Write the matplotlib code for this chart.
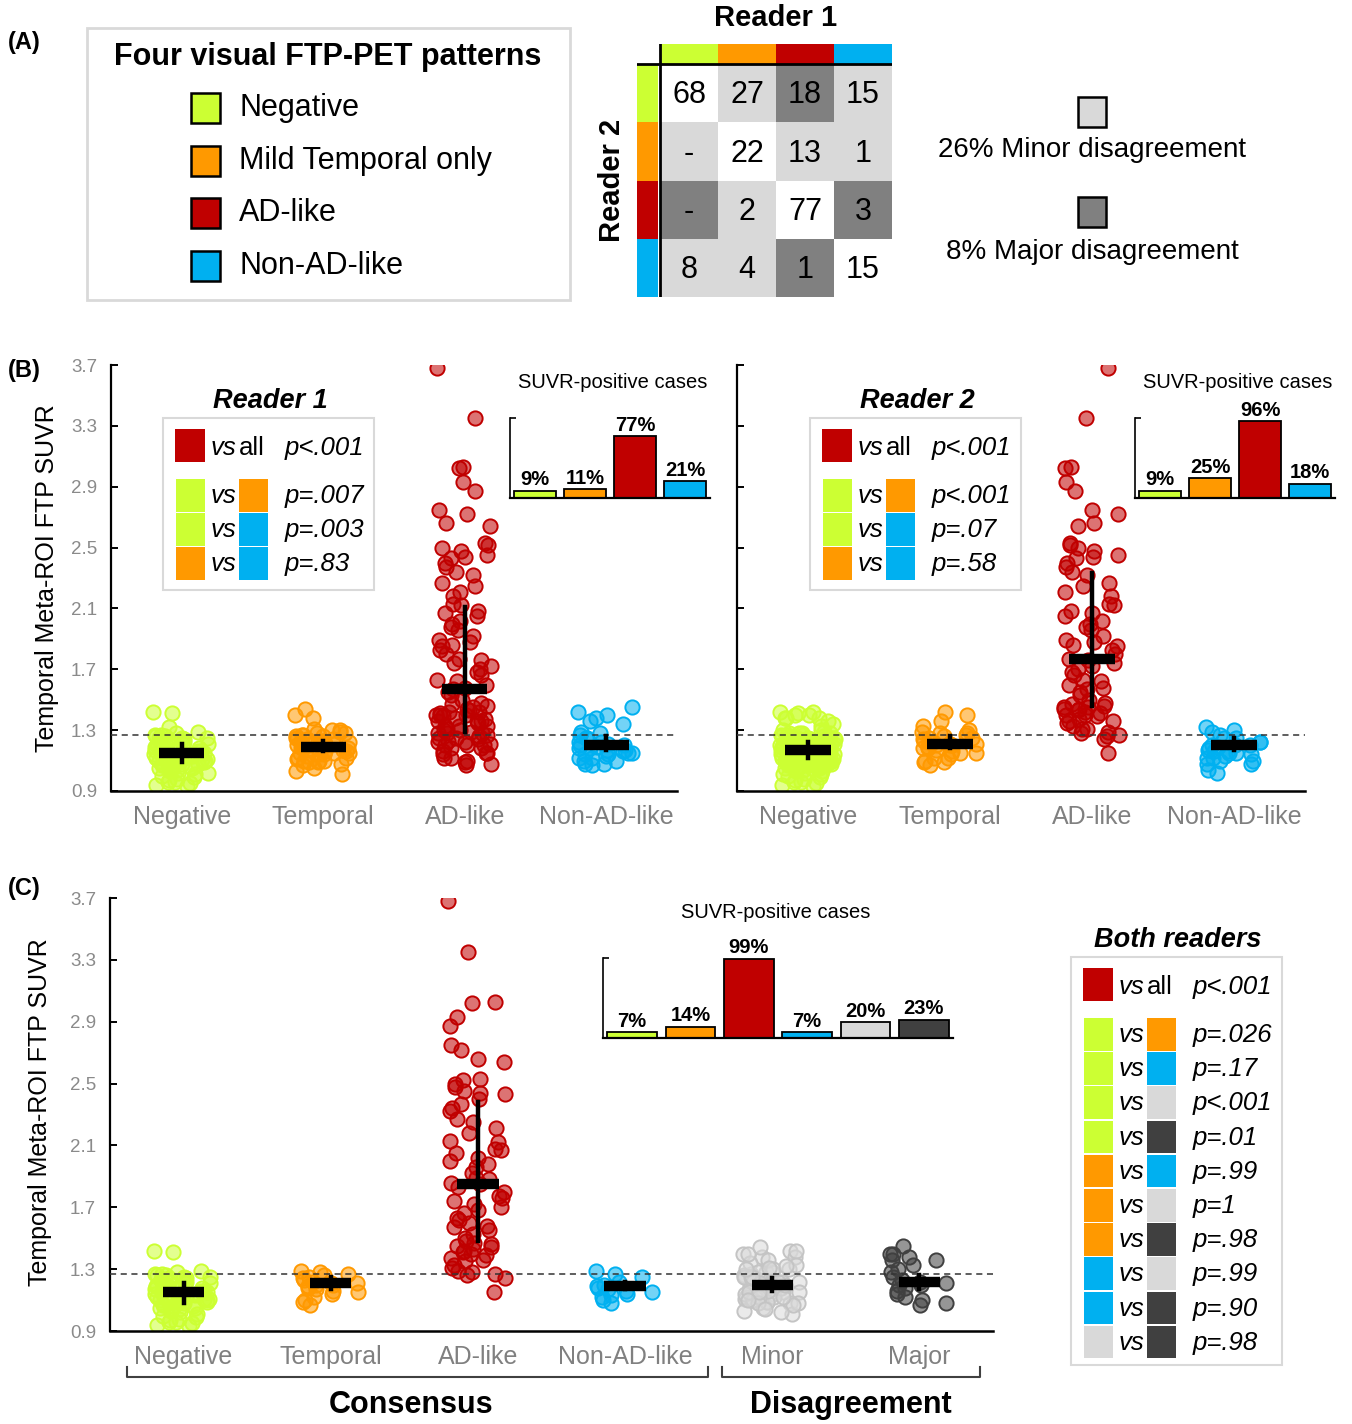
import numpy as np
import matplotlib.pyplot as plt
from matplotlib.colors import to_rgba
from matplotlib.patches import Rectangle

plt.rcParams['font.family'] = ['Liberation Sans', 'DejaVu Sans']

W, H = 1352, 1424

GREEN, ORANGE, RED, BLUE = '#CCFF33', '#FF9900', '#C00000', '#00B0F0'
MINOR, MAJOR = '#D9D9D9', '#404040'
GREY_TXT = '#808080'

pattern_names = ['Negative', 'Mild Temporal only', 'AD-like', 'Non-AD-like']
short_names = ['Negative', 'Temporal', 'AD-like', 'Non-AD-like']
both_names = ['Negative', 'Temporal', 'AD-like', 'Non-AD-like', 'Minor', 'Major']
pattern_colors = [GREEN, ORANGE, RED, BLUE]
both_colors = [GREEN, ORANGE, RED, BLUE, MINOR, MAJOR]

# rows = reader 2, cols = reader 1
agreement = [[68, 27, 18, 15],
             [0, 22, 13, 1],
             [0, 2, 77, 3],
             [8, 4, 1, 15]]
major_pairs = [(0, 2), (2, 3)]
minor_pct, major_pct = 26, 8

# SUVR per cell of the agreement table, named <reader1>_<reader2>
neg_neg = [1.42, 1.41, 1.29, 1.28, 1.27, 1.27, 1.26, 1.26, 1.25, 1.25, 1.24, 1.24, 1.23, 1.23,
           1.22, 1.22, 1.21, 1.21, 1.20, 1.20, 1.19, 1.19, 1.18, 1.18, 1.17, 1.17, 1.16, 1.16,
           1.15, 1.15, 1.15, 1.14, 1.14, 1.14, 1.13, 1.13, 1.13, 1.12, 1.12, 1.12, 1.11, 1.11,
           1.10, 1.10, 1.09, 1.09, 1.08, 1.08, 1.07, 1.07, 1.06, 1.06, 1.05, 1.05, 1.04, 1.04,
           1.03, 1.02, 1.01, 1.00, 0.99, 0.98, 0.97, 0.96, 0.96, 0.95, 0.94, 0.93]
temp_temp = [1.29, 1.28, 1.27, 1.26, 1.25, 1.24, 1.23, 1.22, 1.21, 1.21, 1.20, 1.20, 1.19,
             1.18, 1.17, 1.16, 1.15, 1.14, 1.12, 1.10, 1.09, 1.07]
ad_ad = [3.68, 3.35, 3.03, 3.02, 2.93, 2.87, 2.75, 2.72, 2.66, 2.64,
         2.53, 2.52, 2.50, 2.48, 2.45, 2.44, 2.43, 2.40, 2.37, 2.34,
         2.32, 2.27, 2.25, 2.21, 2.18, 2.13, 2.12, 2.08, 2.07, 2.05,
         2.02, 2.00, 1.98, 1.96, 1.92, 1.89, 1.88, 1.86, 1.85, 1.83,
         1.80, 1.77, 1.76, 1.74, 1.72, 1.70, 1.68, 1.66, 1.63, 1.62,
         1.60, 1.58, 1.57, 1.55, 1.53, 1.50, 1.48, 1.47, 1.46, 1.45,
         1.44, 1.43, 1.42, 1.41, 1.40, 1.39, 1.37, 1.36, 1.35, 1.33,
         1.31, 1.29, 1.28, 1.27, 1.26, 1.24, 1.15]
nonad_nonad = [1.29, 1.27, 1.25, 1.22, 1.20, 1.19, 1.18, 1.17, 1.16, 1.15, 1.14, 1.13, 1.12,
               1.10, 1.08]
temp_neg = [1.40, 1.38, 1.30, 1.28, 1.27, 1.26, 1.25, 1.24, 1.23, 1.22, 1.21, 1.20, 1.19,
            1.18, 1.17, 1.16, 1.15, 1.14, 1.13, 1.12, 1.11, 1.10, 1.09, 1.08, 1.05, 1.03, 1.01]
nonad_neg = [1.42, 1.38, 1.34, 1.28, 1.25, 1.22, 1.20, 1.18, 1.17, 1.15, 1.14, 1.12, 1.10,
             1.08, 1.07]
ad_temp = [1.42, 1.40, 1.36, 1.33, 1.30, 1.28, 1.25, 1.22, 1.20, 1.18, 1.15, 1.12, 1.09]
nonad_temp = [1.21]
temp_ad = [1.44, 1.31]
neg_nonad = [1.32, 1.25, 1.20, 1.16, 1.12, 1.08, 1.04, 1.02]
temp_nonad = [1.30, 1.22, 1.15, 1.10]
ad_neg = [1.40, 1.38, 1.36, 1.33, 1.30, 1.28, 1.25, 1.23, 1.22, 1.21, 1.20, 1.18, 1.16,
          1.14, 1.12, 1.10, 1.08, 1.07]
nonad_ad = [1.45, 1.40, 1.36]
ad_nonad = [1.20]

reader1_groups = [neg_neg + neg_nonad,
                  temp_neg + temp_temp + temp_ad + temp_nonad,
                  ad_neg + ad_temp + ad_ad + ad_nonad,
                  nonad_neg + nonad_temp + nonad_ad + nonad_nonad]
reader2_groups = [neg_neg + temp_neg + ad_neg + nonad_neg,
                  temp_temp + ad_temp + nonad_temp,
                  temp_ad + ad_ad + nonad_ad,
                  neg_nonad + temp_nonad + ad_nonad + nonad_nonad]
both_groups = [neg_neg, temp_temp, ad_ad, nonad_nonad,
               temp_neg + nonad_neg + ad_temp + nonad_temp + temp_ad + neg_nonad + temp_nonad,
               ad_neg + nonad_ad + ad_nonad]

# centre bar and whisker ends
r1_mid, r1_low, r1_high = [1.15, 1.19, 1.57, 1.20], [1.09, 1.16, 1.29, 1.17], [1.21, 1.23, 2.11, 1.26]
r2_mid, r2_low, r2_high = [1.17, 1.21, 1.77, 1.20], [1.12, 1.18, 1.46, 1.17], [1.22, 1.26, 2.33, 1.25]
c_mid = [1.15, 1.21, 1.85, 1.19, 1.20, 1.22]
c_low = [1.08, 1.17, 1.48, 1.17, 1.16, 1.17]
c_high = [1.21, 1.25, 2.38, 1.22, 1.24, 1.26]
suvr_cutoff = 1.27

r1_pos = [9, 11, 77, 21]
r2_pos = [9, 25, 96, 18]
both_pos = [7, 14, 99, 7, 20, 23]

r1_pairs, r1_pvals = [(0, 1), (0, 3), (1, 3)], ['p<.001', 'p=.007', 'p=.003', 'p=.83']
r2_pairs, r2_pvals = [(0, 1), (0, 3), (1, 3)], ['p<.001', 'p<.001', 'p=.07', 'p=.58']
both_pairs = [(0, 1), (0, 3), (0, 4), (0, 5), (1, 3), (1, 4), (1, 5), (3, 4), (3, 5), (4, 5)]
both_pvals = ['p<.001', 'p=.026', 'p=.17', 'p<.001', 'p=.01', 'p=.99', 'p=1', 'p=.98',
              'p=.99', 'p=.90', 'p=.98']

fig = plt.figure(figsize=(W / 100, H / 100), dpi=100)


def px_axes(x0, y0, x1, y1, **kw):
    return fig.add_axes([x0 / W, 1 - y1 / H, (x1 - x0) / W, (y1 - y0) / H], **kw)


def jitter(n, half=0.2):
    # deterministic scatter offsets (quadratic Weyl sequence)
    i = np.arange(n)
    return ((i * 0.7548776662 + i * i * 0.5698402910) % 1 - 0.5) * 2 * half


def strip(ax, groups, colors, names, mid, low, high, barw, ylab=True):
    for k, (vals, col) in enumerate(zip(groups, colors)):
        x = k + jitter(len(vals))
        edge = col if col != MINOR else '#C4C4C4'
        ax.scatter(x, vals, s=105, facecolor=to_rgba(col, 0.55), edgecolor=edge, lw=1.4, zorder=2)
        ax.plot([k, k], [low[k], high[k]], color='k', lw=3.2, zorder=4)
        ax.plot([k - barw, k + barw], [mid[k]] * 2, color='k', lw=7.5,
                solid_capstyle='butt', zorder=4)
    ax.axhline(suvr_cutoff, color='#333333', lw=1.1, ls=(0, (4, 3)), zorder=3)
    ax.set_xlim(-0.5, len(groups) - 0.5)
    ax.set_ylim(0.9, 3.7)
    ax.set_yticks(np.arange(0.9, 3.71, 0.4))
    ax.set_yticklabels([f'{v:.1f}' for v in np.arange(0.9, 3.71, 0.4)] if ylab else [])
    ax.set_xticks(range(len(groups)))
    ax.set_xticklabels(names)
    for s in ['top', 'right']:
        ax.spines[s].set_visible(False)
    ax.spines['left'].set_linewidth(1.6)
    ax.spines['bottom'].set_linewidth(1.8)
    ax.tick_params(axis='y', direction='in', length=5, width=1.4, labelsize=13.5,
                   labelcolor='#8A8A8A', pad=10)
    ax.tick_params(axis='x', length=0, pad=10, labelsize=18, labelcolor=GREY_TXT)
    ax.patch.set_alpha(0)


def inset(box, vals, cols):
    ax = px_axes(*box)
    ax.bar(range(len(vals)), vals, width=0.85, color=cols, edgecolor='k', lw=1.3)
    for i, v in enumerate(vals):
        ax.annotate(f'{v}%', (i, v), xytext=(0, 1), textcoords='offset points',
                    ha='center', va='bottom', fontweight='bold', fontsize=14.5)
    ax.set_xlim(-0.5, len(vals) - 0.5)
    ax.set_ylim(0, 100)
    for s in ['top', 'right']:
        ax.spines[s].set_visible(False)
    ax.spines['bottom'].set_linewidth(1.6)
    ax.spines['left'].set_linewidth(1.2)
    ax.set_xticks([])
    ax.set_yticks([100])
    ax.tick_params(axis='y', direction='in', length=4, width=1.2, labelleft=False)
    ax.patch.set_alpha(0)


# ---- panel B / C scatter axes
axb1 = px_axes(111, 365, 677, 791)
strip(axb1, reader1_groups, pattern_colors, short_names, r1_mid, r1_low, r1_high, 0.16)
axb2 = px_axes(737, 365, 1305, 791)
strip(axb2, reader2_groups, pattern_colors, short_names, r2_mid, r2_low, r2_high, 0.16, ylab=False)
axc = px_axes(110, 898, 993, 1331)
strip(axc, both_groups, both_colors, both_names, c_mid, c_low, c_high, 0.14)

inset((510, 418, 710, 498), r1_pos, pattern_colors)
inset((1135, 418, 1335, 498), r2_pos, pattern_colors)
inset((603, 958, 953, 1038), both_pos, both_colors)

# ---- agreement table
axm = px_axes(637, 44, 892, 297)
hx, hy = 23 / 58, 20 / 58.25
for i, row in enumerate(agreement):
    for j, n in enumerate(row):
        if i == j:
            fc = 'white'
        elif (min(i, j), max(i, j)) in major_pairs:
            fc = '#808080'
        else:
            fc = MINOR
        axm.add_patch(Rectangle((j, i), 1, 1, facecolor=fc, edgecolor='none'))
        axm.text(j + 0.5, i + 0.54, str(n) if n else '-', ha='center', va='center', fontsize=22)
for k, col in enumerate(pattern_colors):
    axm.add_patch(Rectangle((k, -hy), 1, hy, facecolor=col, edgecolor='none'))
    axm.add_patch(Rectangle((-hx, k), hx - 0.04, 1, facecolor=col, edgecolor='none'))
axm.plot([0, 0], [-hy, 4], color='k', lw=2)
axm.plot([-hx, 4], [0, 0], color='k', lw=2)
axm.set_xlim(-hx, 4)
axm.set_ylim(4, -hy)
axm.axis('off')

# ---- overlay for texts and keys
ov = px_axes(0, 0, W, H, zorder=10)
ov.set_xlim(0, W)
ov.set_ylim(H, 0)
ov.axis('off')

for lab, (x, y) in zip(['(A)', '(B)', '(C)'], [(8, 42), (8, 370), (8, 888)]):
    ov.text(x, y, lab, fontsize=17, fontweight='bold', va='center')

# panel A key
ov.add_patch(Rectangle((87, 28), 483, 272, facecolor='none', edgecolor='#D9D9D9', lw=2))
ov.text(328, 57, 'Four visual FTP-PET patterns', fontsize=22, fontweight='bold',
        ha='center', va='center')
for k, (name, col) in enumerate(zip(pattern_names, pattern_colors)):
    y = 108 + k * 52.7
    ov.add_patch(Rectangle((191, y - 15), 29, 30, facecolor=col, edgecolor='k', lw=1.8))
    ov.text(239, y, name, fontsize=22, va='center')

ov.text(776, 18, 'Reader 1', fontsize=21, fontweight='bold', ha='center', va='center')
ov.text(612, 180, 'Reader 2', fontsize=21, fontweight='bold', ha='center', va='center',
        rotation=90)
ov.add_patch(Rectangle((1078, 97), 28, 30, facecolor=MINOR, edgecolor='k', lw=1.8))
ov.text(1092, 150, f'{minor_pct}% Minor disagreement', fontsize=20, ha='center', va='center')
ov.add_patch(Rectangle((1078, 197), 28, 30, facecolor='#808080', edgecolor='k', lw=1.8))
ov.text(1092, 252, f'{major_pct}% Major disagreement', fontsize=20, ha='center', va='center')

# y labels
ov.text(47, 578, 'Temporal Meta-ROI FTP SUVR', fontsize=18, rotation=90, ha='center', va='center')
ov.text(40, 1112, 'Temporal Meta-ROI FTP SUVR', fontsize=18, rotation=90, ha='center', va='center')

# inset titles
ov.text(613, 382, 'SUVR-positive cases', fontsize=14.5, ha='center', va='center')
ov.text(1238, 382, 'SUVR-positive cases', fontsize=14.5, ha='center', va='center')
ov.text(776, 913, 'SUVR-positive cases', fontsize=14.5, ha='center', va='center')


def pkey(x0, y0, title, pairs, pvals, colors, box_h, row_h=34.2):
    # x0, y0: top-left of the key box
    ov.text(x0 + 107, y0 - 17, title, fontsize=19.5, fontweight='bold', style='italic',
            ha='center', va='center')
    ov.add_patch(Rectangle((x0, y0), 211, box_h, facecolor='none', edgecolor='#D9D9D9', lw=1.5))
    ov.add_patch(Rectangle((x0 + 12, y0 + 11), 30, 33, facecolor=RED, edgecolor='none'))
    ov.text(x0 + 48, y0 + 30, 'vs', fontsize=18.5, style='italic', va='center')
    ov.text(x0 + 76, y0 + 30, 'all', fontsize=18.5, va='center')
    ov.text(x0 + 122, y0 + 30, pvals[0], fontsize=18.5, style='italic', va='center')
    for r, ((a, b), p) in enumerate(zip(pairs, pvals[1:])):
        yc = y0 + 77 + r * row_h
        ov.add_patch(Rectangle((x0 + 13, yc - 16), 29, 32.5, facecolor=colors[a], edgecolor='none'))
        ov.add_patch(Rectangle((x0 + 76, yc - 16), 29, 32.5, facecolor=colors[b], edgecolor='none'))
        ov.text(x0 + 48, yc + 1, 'vs', fontsize=18.5, style='italic', va='center')
        ov.text(x0 + 122, yc + 1, p, fontsize=18.5, style='italic', va='center')


pkey(163, 418, 'Reader 1', r1_pairs, r1_pvals, pattern_colors, 172)
pkey(810, 418, 'Reader 2', r2_pairs, r2_pvals, pattern_colors, 172)
pkey(1071, 957, 'Both readers', both_pairs, both_pvals, both_colors, 408)

# brackets under panel C
for x0, x1, xt, lab in [(127, 708, 411, 'Consensus'), (722, 980, 851, 'Disagreement')]:
    ov.plot([x0, x0, x1, x1], [1367, 1377, 1377, 1367], color='#404040', lw=1.5)
    ov.text(xt, 1405, lab, fontsize=22, fontweight='bold', ha='center', va='center')

fig.savefig('out.png', dpi=100)
